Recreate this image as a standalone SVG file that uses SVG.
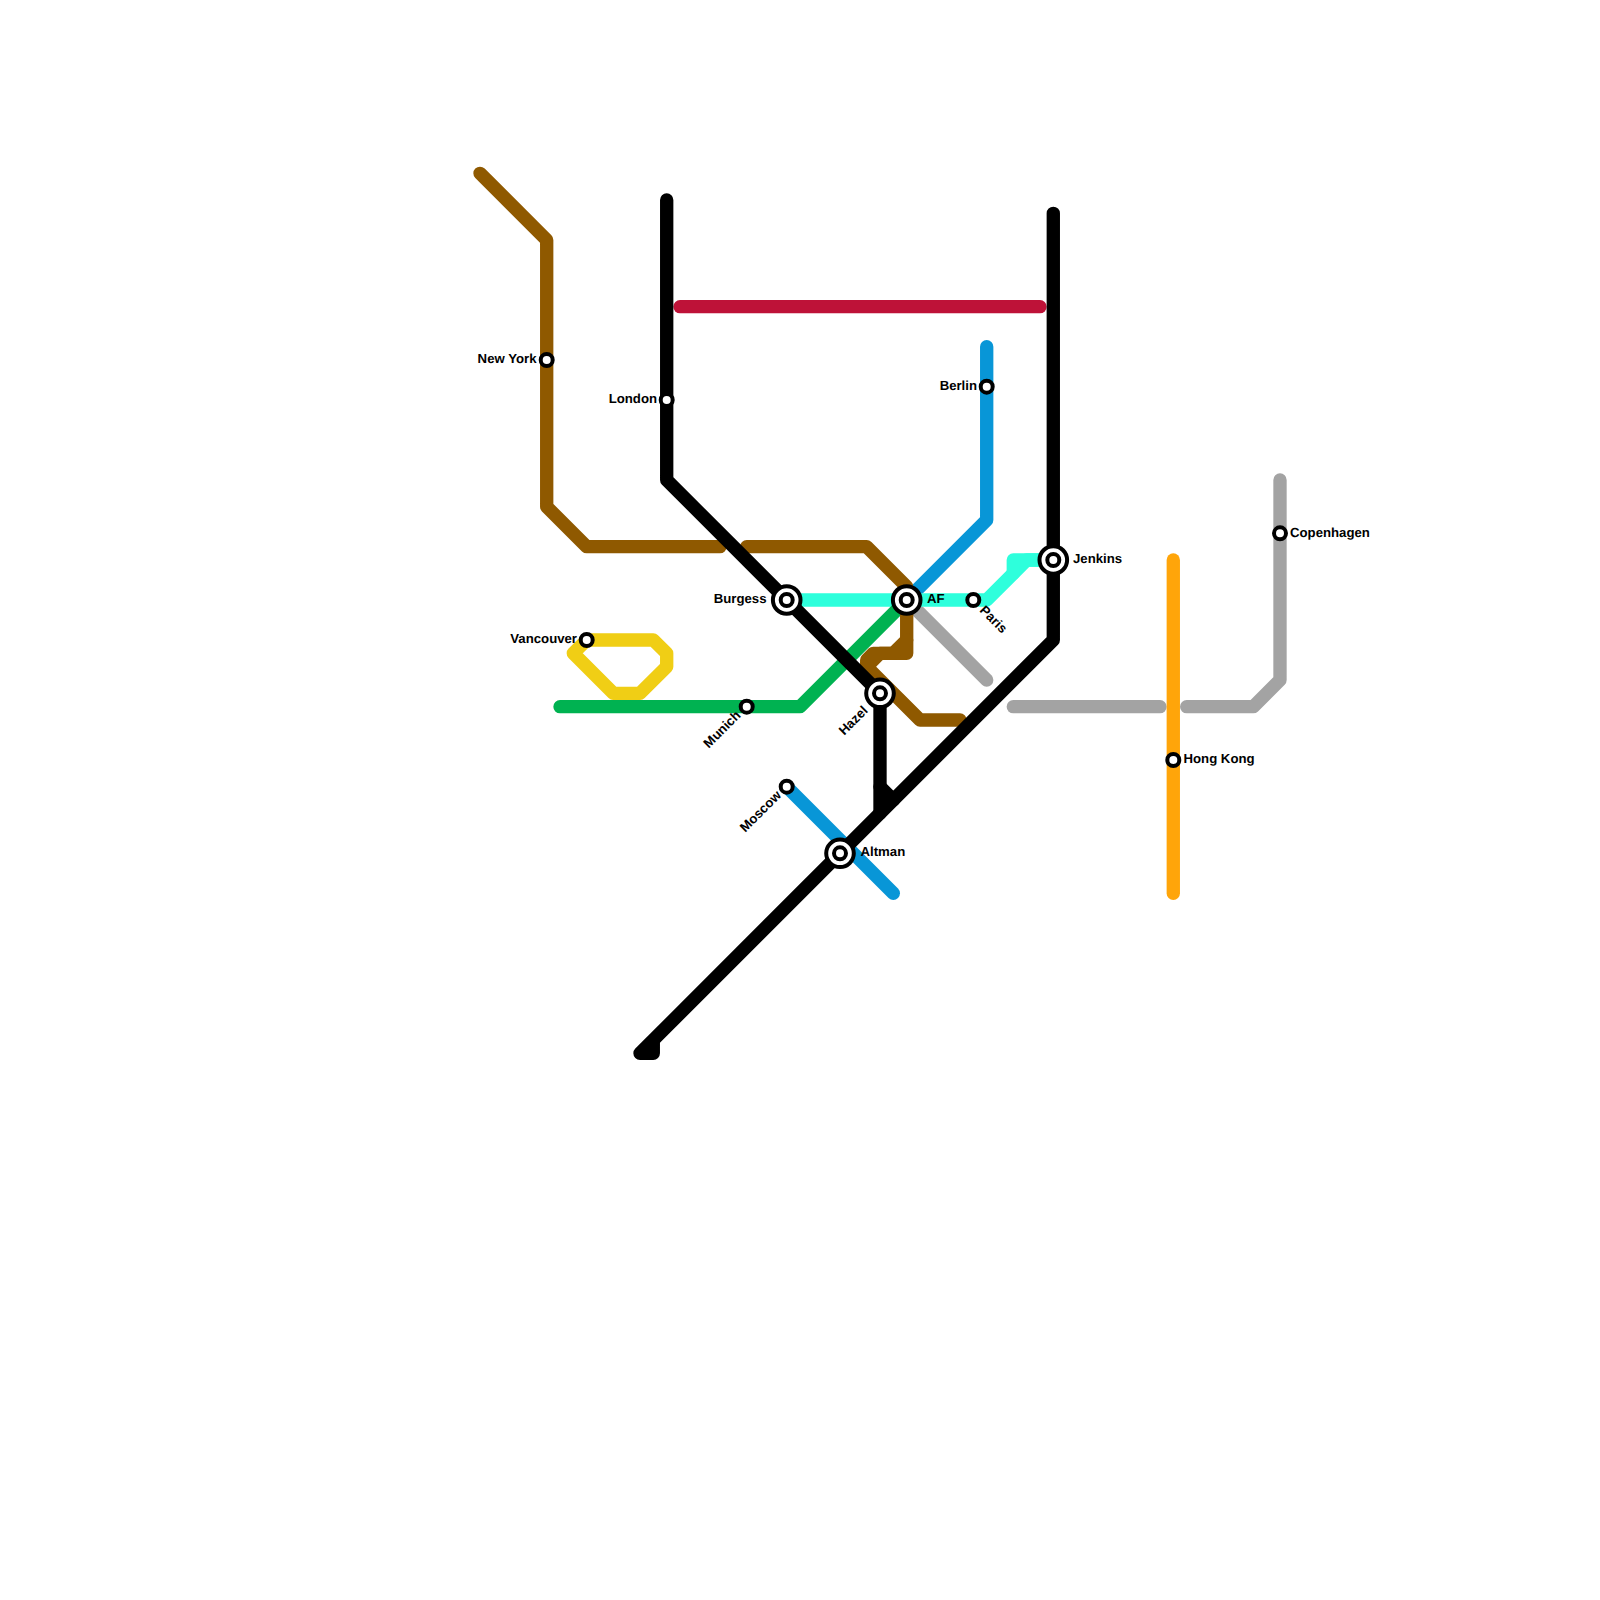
<svg xmlns="http://www.w3.org/2000/svg" width="1600" height="1600" viewBox="0 0 1600 1600">
<style>
.l{fill:none;stroke-width:13.33;stroke-linecap:round;stroke-linejoin:round}
.s{fill:#fff;stroke:#000;stroke-width:4}
.r{fill:#fff;stroke:#000;stroke-width:4}
text{font-family:"Liberation Sans",Arial,sans-serif;font-size:13.2px;font-weight:bold;fill:#000;text-rendering:geometricPrecision}
.e{text-anchor:end}
</style>
<rect width="1600" height="1600" fill="#fff"/>
<g id="connectors">
<path class="l" stroke="#a3a3a3" d="M906.7 600L986.7 680"/>
<path class="l" stroke="#a3a3a3" d="M1013.3 706.7H1160"/>
<path class="l" stroke="#a3a3a3" d="M1186.7 706.7H1253.3L1280 680V480"/>
<path class="l" stroke="#ffa50a" d="M1173.3 560V893.3"/>
<path class="l" stroke="#be1238" d="M680 306.7H1040"/>
<path class="l" stroke="#f0ce15" d="M586.7 640H653.3L666.7 653.3V666.7L640 693.3H613.3L573.3 653.3L586.7 640"/>
<path class="l" stroke="#0896d7" d="M986.7 346.7V520L906.7 600"/>
<path class="l" stroke="#0896d7" d="M786.7 786.7L893.3 893.3"/>
<path class="l" stroke="#2effdc" d="M786.7 600H986.7L1026.7 560H1053.3"/>
<path class="l" stroke="#2effdc" d="M1013.3 573.3V560H1040"/>
<path class="l" stroke="#00b251" d="M560 706.7H800L906.7 600"/>
<path class="l" stroke="#8f5900" d="M480 173.3L546.7 240V506.7L586.7 546.7H720"/>
<path class="l" stroke="#8f5900" d="M746.7 546.7H866.7L906.7 586.7V653.3H880L866.7 666.7L920 720H960"/>
<path class="l" stroke="#8f5900" d="M906.7 640L893.3 653.3H873.3L866.7 660V666.7"/>
<path class="l" stroke="#000" d="M666.7 200V480L880 693.3V813.3"/>
<path class="l" stroke="#000" d="M880 786.7L893.3 800"/>
<path class="l" stroke="#000" d="M1053.3 213.3V640L640 1053.3H653.3V1040"/>
</g>
<g id="new-york"><circle class="s" cx="546.7" cy="360" r="6"/><text class="e" x="536.5" y="363">New York</text></g>
<g id="london"><circle class="s" cx="666.7" cy="400" r="6"/><text class="e" x="657" y="403">London</text></g>
<g id="berlin"><circle class="s" cx="986.7" cy="386.7" r="6"/><text class="e" x="977" y="390">Berlin</text></g>
<g id="vancouver"><circle class="s" cx="586.7" cy="640" r="6"/><text class="e" x="577" y="643">Vancouver</text></g>
<g id="munich"><circle class="s" cx="746.7" cy="706.7" r="6"/><text class="e" transform="rotate(-45 741.5 716)" x="741.5" y="716">Munich</text></g>
<g id="moscow"><circle class="s" cx="786.7" cy="786.7" r="6"/><text class="e" transform="rotate(-45 782 796)" x="782" y="796">Moscow</text></g>
<g id="paris"><circle class="s" cx="973.3" cy="600" r="6"/><text transform="rotate(45 979 611)" x="979" y="611">Paris</text></g>
<g id="copenhagen"><circle class="s" cx="1280" cy="533.3" r="6"/><text x="1290" y="537">Copenhagen</text></g>
<g id="hong-kong"><circle class="s" cx="1173.3" cy="760" r="6"/><text x="1183.5" y="763">Hong Kong</text></g>
<g id="burgess"><circle class="r" cx="786.7" cy="600" r="13.8"/><circle class="s" cx="786.7" cy="600" r="6"/><text class="e" x="766.5" y="603">Burgess</text></g>
<g id="af"><circle class="r" cx="906.7" cy="600" r="13.8"/><circle class="s" cx="906.7" cy="600" r="6"/><text x="927" y="603">AF</text></g>
<g id="hazel"><circle class="r" cx="880" cy="693.3" r="13.8"/><circle class="s" cx="880" cy="693.3" r="6"/><text class="e" transform="rotate(-45 868.5 711.5)" x="868.5" y="711.5">Hazel</text></g>
<g id="altman"><circle class="r" cx="840" cy="853.3" r="13.8"/><circle class="s" cx="840" cy="853.3" r="6"/><text x="860.5" y="856">Altman</text></g>
<g id="jenkins"><circle class="r" cx="1053.3" cy="560" r="13.8"/><circle class="s" cx="1053.3" cy="560" r="6"/><text x="1073" y="563">Jenkins</text></g>
</svg>
